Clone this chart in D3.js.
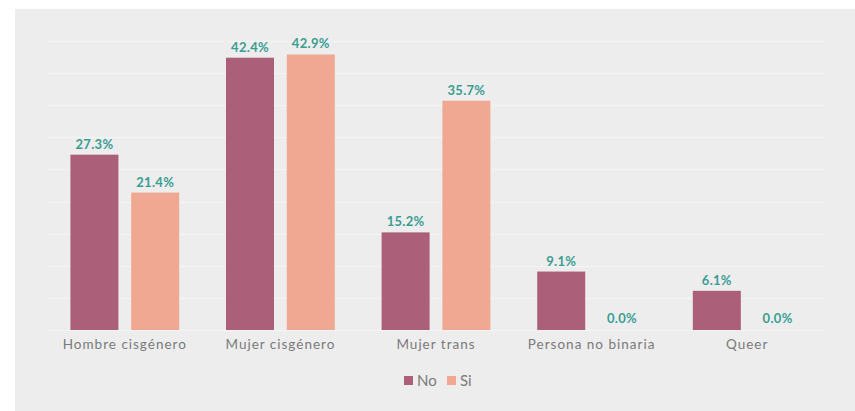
<!DOCTYPE html>
<html>
<head>
<meta charset="utf-8">
<script src="https://cdn.jsdelivr.net/npm/d3@7"></script>
<style>
  body { margin: 0; background: #fff; }
  svg { display: block; font-family: Lato, "Open Sans", sans-serif; }
</style>
</head>
<body>
<div id="chart"></div>
<script>
var categories = ["Hombre cisgénero", "Mujer cisgénero", "Mujer trans", "Persona no binaria", "Queer"];
var seriesNames = ["No", "Si"];
var noValues = [27.3, 42.4, 15.2, 9.1, 6.1];
var siValues = [21.4, 42.9, 35.7, 0.0, 0.0];
var yTicks = [0, 5, 10, 15, 20, 25, 30, 35, 40, 45];

var width = 855, height = 411;
var colors = { No: "#ab5f78", Si: "#f0a893" };

var svg = d3.select("#chart").append("svg")
    .attr("width", width)
    .attr("height", height);

// gray panel
svg.append("rect")
    .attr("x", 15).attr("y", 9)
    .attr("width", width - 15).attr("height", height - 9)
    .attr("fill", "#ededed");

var margin = { left: 47, right: 30, top: 41, bottom: 81 };

var x = d3.scaleBand()
    .domain(categories)
    .range([margin.left, width - margin.right]);

var x1 = d3.scaleBand()
    .domain(seriesNames)
    .range([0, x.bandwidth()])
    .paddingInner(0.21)
    .paddingOuter(0.385);

var y = d3.scaleLinear()
    .domain([0, 45])
    .range([height - margin.bottom, margin.top]);

// gridlines
svg.append("g")
    .selectAll("line")
    .data(yTicks)
    .join("line")
    .attr("x1", margin.left)
    .attr("x2", width - margin.right)
    .attr("y1", function(d) { return Math.round(y(d)) + 0.5; })
    .attr("y2", function(d) { return Math.round(y(d)) + 0.5; })
    .attr("stroke", "#f3f3f3")
    .attr("stroke-width", 1.5);

var rows = categories.map(function(c, i) {
    return { cat: c, values: [
        { key: "No", value: noValues[i] },
        { key: "Si", value: siValues[i] }
    ]};
});

var groups = svg.append("g")
    .selectAll("g")
    .data(rows)
    .join("g")
    .attr("transform", function(d) { return "translate(" + x(d.cat) + ",0)"; });

groups.selectAll("rect")
    .data(function(d) { return d.values; })
    .join("rect")
    .attr("x", function(d) { return x1(d.key); })
    .attr("y", function(d) { return y(d.value); })
    .attr("width", x1.bandwidth())
    .attr("height", function(d) { return y(0) - y(d.value); })
    .attr("fill", function(d) { return colors[d.key]; });

groups.selectAll("text")
    .data(function(d) { return d.values; })
    .join("text")
    .attr("x", function(d) { return x1(d.key) + x1.bandwidth() / 2; })
    .attr("y", function(d) { return y(d.value) - (d.value === 0 ? 7 : 6); })
    .attr("text-anchor", "middle")
    .attr("fill", "#3a9d93")
    .attr("font-size", "13px")
    .attr("font-weight", "bold")
    .attr("letter-spacing", "0.3px")
    .text(function(d) { return d.value.toFixed(1) + "%"; });

// category axis
var xAxis = d3.axisBottom(x).tickSize(0).tickPadding(9);
var gX = svg.append("g")
    .attr("transform", "translate(0," + y(0) + ")")
    .call(xAxis);
gX.select(".domain").remove();
gX.selectAll("text")
    .attr("fill", "#7a7a7a")
    .attr("font-size", "13.5px")
    .attr("letter-spacing", "1px")
    .style("font-family", "Lato, sans-serif");

// legend
var legend = svg.append("g").attr("transform", "translate(404,376)");
var items = [{ key: "No", x: 0 }, { key: "Si", x: 43 }];
var li = legend.selectAll("g")
    .data(items)
    .join("g")
    .attr("transform", function(d) { return "translate(" + d.x + ",0)"; });
li.append("rect")
    .attr("width", 9).attr("height", 9)
    .attr("fill", function(d) { return colors[d.key]; });
li.append("text")
    .attr("x", 13).attr("y", 9.5)
    .attr("fill", "#7a7a7a")
    .attr("font-size", "15px")
    .text(function(d) { return d.key; });
</script>
</body>
</html>
